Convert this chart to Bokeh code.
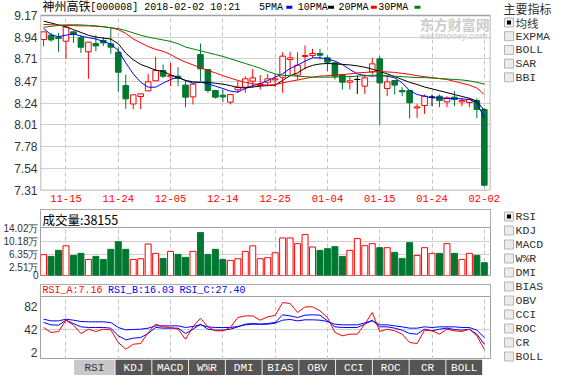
from bokeh.plotting import figure
from bokeh.layouts import column, row
from bokeh.models import (Range1d, FixedTicker, PrintfTickFormatter, CustomJSTickFormatter,
                          BoxAnnotation, Label, ColumnDataSource)
from bokeh.core.properties import value
from bokeh.embed import file_html
from bokeh.resources import INLINE

# ---------------- data ----------------
stock_name = "神州高铁"
stock_code = "000008"
stamp = "2018-02-02 10:21"

dates = ["11-10", "11-13", "11-14", "11-15", "11-16", "11-17", "11-20", "11-21", "11-22", "11-23",
         "11-24", "11-27", "11-28", "11-29", "11-30", "12-01", "12-04", "12-05", "12-06", "12-07",
         "12-08", "12-11", "12-12", "12-13", "12-14", "12-15", "12-18", "12-19", "12-20", "12-21",
         "12-22", "12-25", "12-26", "12-27", "12-28", "12-29", "01-02", "01-03", "01-04", "01-05",
         "01-08", "01-09", "01-10", "01-11", "01-12", "01-15", "01-16", "01-17", "01-18", "01-19",
         "01-22", "01-23", "01-24", "01-25", "01-26", "01-29", "01-30", "01-31", "02-01", "02-02"]

opens = [8.915, 8.961, 8.940, 8.897, 8.996, 8.933, 8.784, 8.872, 8.904, 8.869,
         8.780, 8.426, 8.230, 8.309, 8.369, 8.476, 8.585, 8.518, 8.525, 8.430,
         8.305, 8.755, 8.596, 8.373, 8.323, 8.249, 8.380, 8.408, 8.472, 8.426,
         8.461, 8.486, 8.514, 8.702, 8.536, 8.734, 8.745, 8.766, 8.720, 8.667,
         8.543, 8.461, 8.490, 8.419, 8.571, 8.709, 8.394, 8.479, 8.373, 8.373,
         8.188, 8.213, 8.302, 8.312, 8.252, 8.302, 8.252, 8.245, 8.266, 8.171]
highs = [9.000, 8.986, 8.986, 9.050, 9.010, 8.961, 8.887, 8.961, 8.940, 9.039,
         8.830, 8.543, 8.327, 8.337, 8.550, 8.731, 8.649, 8.667, 8.621, 8.472,
         8.440, 8.872, 8.600, 8.380, 8.383, 8.330, 8.472, 8.525, 8.603, 8.536,
         8.550, 8.550, 8.780, 8.784, 8.780, 8.851, 8.816, 8.816, 8.745, 8.670,
         8.550, 8.525, 8.532, 8.543, 8.720, 8.738, 8.525, 8.480, 8.408, 8.375,
         8.231, 8.330, 8.330, 8.330, 8.312, 8.366, 8.295, 8.295, 8.288, 8.190]
lows = [8.844, 8.890, 8.784, 8.709, 8.879, 8.773, 8.497, 8.791, 8.844, 8.763,
        8.360, 8.178, 8.174, 8.174, 8.369, 8.476, 8.507, 8.419, 8.419, 8.196,
        8.224, 8.472, 8.348, 8.288, 8.249, 8.224, 8.348, 8.348, 8.401, 8.383,
        8.419, 8.408, 8.348, 8.536, 8.490, 8.596, 8.720, 8.702, 8.578, 8.490,
        8.383, 8.383, 8.337, 8.337, 8.543, 8.010, 8.312, 8.330, 8.312, 8.075,
        8.082, 8.125, 8.206, 8.196, 8.196, 8.206, 8.206, 8.196, 8.080, 7.352]
closes = [8.996, 8.911, 8.926, 9.046, 8.968, 8.833, 8.887, 8.847, 8.879, 8.833,
          8.567, 8.284, 8.327, 8.337, 8.465, 8.585, 8.525, 8.532, 8.500, 8.302,
          8.440, 8.603, 8.373, 8.302, 8.305, 8.330, 8.408, 8.497, 8.507, 8.444,
          8.497, 8.497, 8.738, 8.720, 8.642, 8.745, 8.766, 8.748, 8.674, 8.525,
          8.461, 8.476, 8.490, 8.507, 8.656, 8.454, 8.465, 8.430, 8.359, 8.242,
          8.199, 8.312, 8.302, 8.266, 8.295, 8.277, 8.266, 8.277, 8.171, 7.366]

ma5 = [9.032, 8.965, 8.945, 8.961, 8.975, 8.950, 8.935, 8.920, 8.895, 8.866,
       8.798, 8.667, 8.550, 8.461, 8.408, 8.408, 8.451, 8.490, 8.514, 8.479,
       8.450, 8.462, 8.444, 8.419, 8.394, 8.366, 8.355, 8.394, 8.426, 8.444,
       8.479, 8.514, 8.550, 8.607, 8.642, 8.685, 8.720, 8.720, 8.709, 8.685,
       8.649, 8.596, 8.550, 8.532, 8.525, 8.532, 8.525, 8.507, 8.454, 8.373,
       8.330, 8.312, 8.295, 8.295, 8.288, 8.288, 8.284, 8.277, 8.242, 8.082]
ma10 = [9.110, 9.090, 9.070, 9.050, 9.020, 8.990, 8.960, 8.940, 8.930, 8.920,
        8.870, 8.770, 8.700, 8.650, 8.620, 8.590, 8.575, 8.540, 8.510, 8.480,
        8.465, 8.460, 8.460, 8.450, 8.440, 8.425, 8.405, 8.400, 8.410, 8.420,
        8.425, 8.430, 8.480, 8.530, 8.560, 8.610, 8.640, 8.655, 8.660, 8.656,
        8.650, 8.645, 8.635, 8.620, 8.600, 8.575, 8.550, 8.520, 8.490, 8.460,
        8.437, 8.410, 8.390, 8.370, 8.350, 8.330, 8.310, 8.290, 8.260, 8.160]
ma20 = [9.075, 9.072, 9.068, 9.065, 9.062, 9.060, 9.060, 9.055, 9.050, 9.040,
        9.020, 8.980, 8.920, 8.880, 8.840, 8.810, 8.790, 8.755, 8.710, 8.675,
        8.645, 8.615, 8.585, 8.560, 8.530, 8.505, 8.480, 8.460, 8.445, 8.435,
        8.430, 8.435, 8.455, 8.470, 8.485, 8.500, 8.515, 8.525, 8.530, 8.535,
        8.540, 8.550, 8.560, 8.565, 8.570, 8.575, 8.570, 8.565, 8.555, 8.545,
        8.530, 8.520, 8.510, 8.500, 8.490, 8.470, 8.450, 8.430, 8.400, 8.330]
ma30 = [9.045, 9.055, 9.065, 9.070, 9.072, 9.070, 9.065, 9.060, 9.050, 9.040,
        9.030, 9.010, 8.985, 8.960, 8.940, 8.925, 8.910, 8.895, 8.870, 8.835,
        8.815, 8.795, 8.775, 8.755, 8.735, 8.710, 8.685, 8.660, 8.635, 8.610,
        8.575, 8.550, 8.535, 8.530, 8.525, 8.520, 8.515, 8.515, 8.515, 8.515,
        8.520, 8.520, 8.525, 8.530, 8.535, 8.535, 8.530, 8.525, 8.520, 8.515,
        8.510, 8.510, 8.505, 8.500, 8.495, 8.490, 8.485, 8.475, 8.460, 8.440]

volumes = [6.2, 5.7, 7.5, 8.85, 6.0, 6.6, 4.8, 5.7, 4.8, 7.8,
           10.1, 7.8, 4.8, 5.0, 9.4, 6.6, 5.1, 7.2, 6.3, 5.4,
           7.2, 12.8, 6.3, 7.8, 4.8, 4.5, 5.0, 7.2, 8.85, 5.0,
           5.3, 6.8, 11.2, 11.2, 9.5, 12.2, 8.5, 7.5, 8.0, 8.6,
           5.7, 7.5, 11.0, 8.9, 9.5, 8.3, 8.3, 6.9, 5.1, 9.8,
           6.0, 8.3, 6.6, 6.6, 9.5, 6.6, 4.8, 6.6, 6.0, 3.8155]
vol_last = 38155

rsi_a = [45.0, 36.3, 38.0, 57.7, 49.0, 34.5, 42.0, 38.0, 42.0, 40.8,
         18.9, 7.2, 15.9, 17.1, 36.3, 50.8, 46.1, 45.0, 42.0, 24.6,
         46.1, 61.2, 46.1, 39.2, 39.2, 45.0, 62.3, 65.2, 65.2, 57.7,
         63.5, 66.0, 88.4, 86.7, 71.0, 80.9, 80.9, 73.9, 62.3, 36.3,
         30.5, 33.4, 33.4, 50.8, 71.0, 38.0, 42.0, 39.2, 33.4, 18.9,
         17.1, 40.3, 39.2, 33.4, 42.0, 39.2, 38.0, 42.0, 30.5, 7.16]
rsi_b = [53.6, 49.6, 49.0, 57.7, 51.9, 46.1, 45.0, 45.0, 45.0, 43.8,
         30.5, 23.5, 26.4, 27.6, 34.5, 45.0, 43.8, 43.8, 43.8, 34.5,
         42.0, 50.7, 42.0, 40.3, 40.3, 42.0, 46.1, 50.7, 51.9, 50.7,
         51.9, 53.6, 67.0, 65.2, 62.3, 66.4, 67.0, 66.4, 56.5, 46.1,
         45.0, 45.0, 45.0, 50.7, 57.7, 46.1, 46.1, 43.8, 40.3, 34.5,
         33.4, 42.0, 39.2, 42.0, 43.8, 41.5, 40.3, 42.0, 33.4, 16.03]
rsi_c = [59.4, 56.5, 56.5, 59.4, 57.7, 55.4, 54.8, 54.8, 54.8, 53.6,
         45.0, 40.9, 41.5, 42.0, 43.8, 47.8, 47.8, 47.8, 47.8, 45.0,
         46.7, 49.6, 46.1, 45.0, 45.0, 45.0, 46.7, 49.6, 50.7, 50.7,
         50.7, 52.5, 57.7, 58.9, 56.5, 58.3, 58.3, 57.7, 55.4, 50.7,
         49.6, 49.6, 49.6, 53.0, 56.5, 49.6, 49.6, 47.8, 46.1, 43.8,
         43.8, 46.1, 45.0, 46.1, 46.1, 46.1, 45.0, 45.0, 40.3, 27.40]

date_ticks = ["11-15", "11-24", "12-05", "12-14", "12-25", "01-04", "01-15", "01-24", "02-02"]
price_ticks = [7.31, 7.54, 7.78, 8.01, 8.24, 8.47, 8.71, 8.94, 9.17]
vol_ticks = [0, 2.51, 6.35, 10.18, 14.02]
rsi_ticks = [2, 42, 82]
ma_names = ["5PMA", "10PMA", "20PMA", "30PMA"]
ma_colors = ["#0000ff", "#000000", "#ff0000", "#008000"]
rsi_names = ["RSI_A", "RSI_B", "RSI_C"]
rsi_colors = ["#ff0000", "#0000ff", "#0000ff"]
panel_title = "主要指标"
main_inds = ["均线", "EXPMA", "BOLL", "SAR", "BBI"]
sub_inds = ["RSI", "KDJ", "MACD", "W%R", "DMI", "BIAS", "OBV", "CCI", "ROC", "CR", "BOLL"]

# ---------------- layout constants (page px) ----------------
LEFT_W, RIGHT_W = 502, 50
FR_L, FR_R = 45, 498
STEP = 7.52
X0_PX = 48.1
x_start = -(X0_PX - FR_L) / STEP
x_end = x_start + (FR_R - FR_L) / STEP
BL, BR = FR_L - 8, 8 + LEFT_W - FR_R

RED, GREEN, GRAYLINE = "#ff0000", "#007832", "#a0a0a0"
GRID_H, GRID_V = "#d0d0d0", "#c4c4c4"
CJK = "Liberation Mono, Noto Sans CJK SC"


def px_x(px):
    return x_start + (px - FR_L) / STEP


def add_label(p, x, y, text, color="#000000", font="Liberation Mono", size="10px",
              align="left", style="normal"):
    p.add_layout(Label(x=x, y=y, text=text, text_color=color, text_font=font,
                       text_font_size=size, text_align=align, text_baseline="middle",
                       text_font_style=style))


def base_fig(**kw):
    p = figure(output_backend="svg", toolbar_location=None, title=None, **kw)
    p.background_fill_color = "white"
    p.border_fill_color = "white"
    return p


xr = Range1d(x_start, x_end)
n = len(dates)
idx = list(range(n))
date_pos = [dates.index(d) for d in date_ticks]

# ---------------- main price panel ----------------
M_TOP, M_PTOP, M_BOT = 8, 23, 198
p_lo, p_hi = price_ticks[0], price_ticks[-1]
ppx = (p_hi - p_lo) / (M_BOT - M_PTOP)


def py_m(py):
    return p_lo + (M_BOT - py) * ppx


pm = base_fig(width=LEFT_W, height=208, x_range=xr,
              y_range=Range1d(p_lo, p_hi + (M_PTOP - M_TOP) * ppx),
              min_border_left=BL, min_border_right=BR, min_border_top=0, min_border_bottom=18)
pm.outline_line_color = None
pm.xgrid.ticker = FixedTicker(ticks=date_pos)
pm.xgrid.grid_line_color = GRID_V
pm.xgrid.grid_line_dash = "4 3"
pm.ygrid.ticker = FixedTicker(ticks=price_ticks)
pm.ygrid.grid_line_color = GRID_H

ccol = [RED if c > o else (GREEN if c < o else "#000000") for o, c in zip(opens, closes)]
cfill = ["#ffffff" if c > o else (GREEN if c < o else "#000000") for o, c in zip(opens, closes)]
csrc = ColumnDataSource(dict(x=idx, h=highs, l=lows,
                             top=[max(o, c) for o, c in zip(opens, closes)],
                             bottom=[min(o, c) for o, c in zip(opens, closes)],
                             color=ccol, fill=cfill))
pm.segment(x0="x", y0="l", x1="x", y1="h", line_color="color", line_width=1, source=csrc)
pm.vbar(x="x", width=0.75, top="top", bottom="bottom", fill_color="fill",
        line_color="color", line_width=1, source=csrc)
doji = [i for i in idx if opens[i] == closes[i]]
pm.segment(x0=[i - 0.375 for i in doji], y0=[opens[i] for i in doji],
           x1=[i + 0.375 for i in doji], y1=[opens[i] for i in doji],
           line_color="#000000", line_width=1)

for ser, col in zip([ma5, ma10, ma20, ma30], ma_colors):
    pm.line(idx, ser, line_color=col, line_width=1)

pm.yaxis.ticker = FixedTicker(ticks=price_ticks)
pm.yaxis.formatter = PrintfTickFormatter(format="%.2f")
pm.xaxis.ticker = FixedTicker(ticks=date_pos)
pm.xaxis.formatter = CustomJSTickFormatter(args=dict(labels=dates),
                                           code="return labels[Math.round(tick)];")
for ax in (pm.xaxis, pm.yaxis):
    ax.axis_line_color = None
    ax.major_tick_line_color = None
    ax.minor_tick_line_color = None
    ax.major_tick_out = 0
    ax.major_tick_in = 0
pm.yaxis.major_label_text_font = "Liberation Sans"
pm.yaxis.major_label_text_font_size = "12px"
pm.yaxis.major_label_text_color = "#333333"
pm.yaxis.major_label_standoff = 3
pm.xaxis.major_label_text_font = "Liberation Mono"
pm.xaxis.major_label_text_font_size = "10.5px"
pm.xaxis.major_label_text_color = RED
pm.xaxis.major_label_standoff = 4

# cover title area, then panel outline
pm.add_layout(BoxAnnotation(bottom=p_hi, fill_color="white", fill_alpha=1.0, line_color=None))
pm.add_layout(BoxAnnotation(bottom=p_lo, top=p_hi, fill_color=None, fill_alpha=0,
                            line_color=GRAYLINE, line_alpha=1.0, line_width=1.5))

# title line
ty = py_m(15)
add_label(pm, px_x(47), ty, stock_name, font=CJK, size="12px")
add_label(pm, px_x(95), ty, f"[{stock_code}] {stamp}", size="10px")
for name, col, tx, dx in zip(ma_names, ma_colors, [265, 304, 345, 385], [292.5, 334.5, 377.5, 421.5]):
    add_label(pm, px_x(tx), ty, name, size="10px")
    pm.add_layout(BoxAnnotation(left=px_x(dx), right=px_x(dx + 6), bottom=py_m(16.3), top=py_m(13.3),
                                fill_color=col, fill_alpha=1.0, line_color=None))

# watermark
add_label(pm, px_x(462), py_m(31.5), "东方财富网", color="#cdcdcd",
          font="Noto Sans CJK SC", size="14px", align="center", style="bold")
add_label(pm, px_x(461), py_m(43.5), "eastmoney.com", color="#d2d2d2",
          font="Liberation Sans", size="9px", align="center", style="bold italic")

# ---------------- volume panel ----------------
V_FTOP, V_HDR, V_BOT = 217, 235, 283
vpx = vol_ticks[-1] / (V_BOT - 236)


def py_v(py):
    return (V_BOT - py) * vpx


pv = base_fig(width=LEFT_W, height=76, x_range=xr, y_range=Range1d(0, py_v(V_FTOP)),
              min_border_left=BL, min_border_right=BR, min_border_top=1, min_border_bottom=9,
              x_axis_location=None)
pv.outline_line_color = GRAYLINE
pv.xgrid.ticker = FixedTicker(ticks=date_pos)
pv.xgrid.grid_line_color = GRID_V
pv.xgrid.grid_line_dash = "4 3"
pv.ygrid.ticker = FixedTicker(ticks=vol_ticks[1:-1])
pv.ygrid.grid_line_color = GRID_H
vcol = [RED if c >= o else GREEN for o, c in zip(opens, closes)]
vfill = ["#ffffff" if c >= o else GREEN for o, c in zip(opens, closes)]
vsrc = ColumnDataSource(dict(x=idx, v=volumes, color=vcol, fill=vfill))
pv.vbar(x="x", width=0.8, top="v", bottom=0, fill_color="fill", line_color="color",
        line_width=1, source=vsrc)
pv.yaxis.ticker = FixedTicker(ticks=vol_ticks)
pv.yaxis.formatter = CustomJSTickFormatter(code="return tick == 0 ? '0' : tick.toFixed(2) + '万';")
pv.yaxis.axis_line_color = None
pv.yaxis.major_tick_line_color = None
pv.yaxis.minor_tick_line_color = None
pv.yaxis.major_tick_out = 0
pv.yaxis.major_tick_in = 0
pv.yaxis.major_label_standoff = 2
pv.yaxis.major_label_text_font = "Liberation Sans"
pv.yaxis.major_label_text_font_size = "10px"
pv.yaxis.major_label_text_color = "#333333"
pv.add_layout(BoxAnnotation(bottom=py_v(V_HDR), fill_color="white", fill_alpha=1.0,
                            line_color=GRAYLINE, line_alpha=1.0, line_width=1))
add_label(pv, px_x(47), py_v(226.5), f"成交量:{vol_last}", font="Noto Sans CJK SC", size="12.5px")

# ---------------- RSI panel ----------------
R_FTOP, R_HDR, R_BOT = 292, 304, 367
R_Y42, R_PPU = 336.7, 0.575


def py_r(py):
    return 42 + (R_Y42 - py) / R_PPU


pr = base_fig(width=LEFT_W, height=75, x_range=xr, y_range=Range1d(py_r(R_BOT), py_r(R_FTOP)),
              min_border_left=BL, min_border_right=BR, min_border_top=0, min_border_bottom=0,
              x_axis_location=None)
pr.outline_line_color = GRAYLINE
pr.xgrid.ticker = FixedTicker(ticks=date_pos)
pr.xgrid.grid_line_color = GRID_V
pr.xgrid.grid_line_dash = "4 3"
pr.ygrid.ticker = FixedTicker(ticks=[rsi_ticks[1]])
pr.ygrid.grid_line_color = GRID_H
for ser, col in zip([rsi_c, rsi_b, rsi_a], [rsi_colors[2], rsi_colors[1], rsi_colors[0]]):
    pr.line(idx, ser, line_color=col, line_width=1)
pr.yaxis.ticker = FixedTicker(ticks=rsi_ticks)
pr.yaxis.formatter = PrintfTickFormatter(format="%d")
pr.yaxis.axis_line_color = None
pr.yaxis.major_tick_line_color = None
pr.yaxis.minor_tick_line_color = None
pr.yaxis.major_tick_out = 0
pr.yaxis.major_tick_in = 0
pr.yaxis.major_label_standoff = 3
pr.yaxis.major_label_text_font = "Liberation Sans"
pr.yaxis.major_label_text_font_size = "12px"
pr.yaxis.major_label_text_color = "#333333"
pr.add_layout(BoxAnnotation(bottom=py_r(R_HDR), fill_color="white", fill_alpha=1.0,
                            line_color=GRAYLINE, line_alpha=1.0, line_width=1))
rsi_last = [rsi_a[-1], rsi_b[-1], rsi_c[-1]]
for name, val, col, tx in zip(rsi_names, rsi_last, rsi_colors, [47, 113, 185]):
    add_label(pr, px_x(tx), py_r(298), f"{name}:{val:.2f}", color=col, size="10px")

# ---------------- tabs ----------------
pt = base_fig(width=LEFT_W, height=16, x_range=Range1d(8, 8 + LEFT_W), y_range=Range1d(383, 367),
              min_border=0, x_axis_location=None, y_axis_location=None)
pt.outline_line_color = None
pt.xgrid.grid_line_color = None
pt.ygrid.grid_line_color = None
tl = [45.5 if i == 0 else 91.7 + 41 * (i - 1) for i in range(len(sub_inds))]
tr = [90.7 if i == 0 else l + 40 for i, l in enumerate(tl)]
tsrc = ColumnDataSource(dict(l=tl, r=tr, cx=[(a + b) / 2 for a, b in zip(tl, tr)], name=sub_inds,
                             fill=["#c8c8c8"] + ["#555555"] * (len(sub_inds) - 1),
                             tcol=["#333333"] + ["#ffffff"] * (len(sub_inds) - 1)))
pt.quad(left="l", right="r", top=367, bottom=383, fill_color="fill", line_color=None, source=tsrc)
pt.text(x="cx", y=375.5, text="name", text_color="tcol", text_font=value("Liberation Mono"),
        text_font_size=value("11px"), text_align="center", text_baseline="middle", source=tsrc)

# ---------------- right indicator list ----------------
pside = base_fig(width=RIGHT_W, height=375, x_range=Range1d(8 + LEFT_W, 8 + LEFT_W + RIGHT_W),
                 y_range=Range1d(383, 8), min_border=0, x_axis_location=None, y_axis_location=None)
pside.outline_line_color = None
pside.xgrid.grid_line_color = None
pside.ygrid.grid_line_color = None
pside.text(x=[511], y=[18], text=[panel_title], text_color="#333333",
           text_font=value(CJK), text_font_size=value("12px"),
           text_baseline="middle")
items = main_inds + sub_inds
ys = [30 + 13.7 * k for k in range(len(main_inds))] + [224 + 14 * k for k in range(len(sub_inds))]
checked = [k == 0 for k in range(len(main_inds))] + [k == 0 for k in range(len(sub_inds))]
fonts = ["Noto Sans CJK SC" if any(ord(ch) > 127 for ch in s) else "Liberation Mono" for s in items]
ssrc = ColumnDataSource(dict(y=ys, t=[y - 4.5 for y in ys], b=[y + 4.5 for y in ys],
                             name=items, font=fonts))
pside.quad(left=512, right=521, top="t", bottom="b", fill_color="#ececec", line_color="#b4b4b4",
           line_width=1, source=ssrc)
cys = [y for y, c in zip(ys, checked) if c]
pside.quad(left=514.5, right=518.5, top=[y - 2 for y in cys], bottom=[y + 2 for y in cys],
           fill_color="#000000", line_color=None)
pside.text(x=523, y="y", text="name", text_color="#333333", text_font="font",
           text_font_size=value("11.5px"), text_baseline="middle", source=ssrc)

layout = row(column(pm, pv, pr, pt), pside)
open("out.html", "w").write(file_html(layout, INLINE))
